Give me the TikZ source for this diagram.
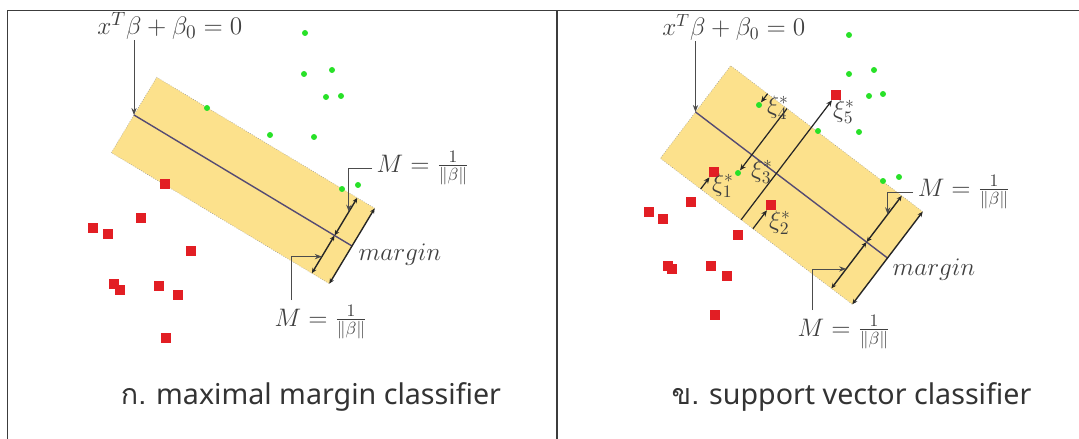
\documentclass[tikz,border=0pt]{standalone}
\usepackage{amsmath,amssymb}
\usepackage{fontspec}
\newfontfamily\thaifont[Script=Thai]{Loma}
\newfontfamily\capfont{Noto Sans}
\usepackage{tikz}
\usetikzlibrary{arrows.meta,calc}
\definecolor{bandyellow}{RGB}{252,225,140}
\definecolor{ptred}{RGB}{226,30,36}
\definecolor{ptgreen}{RGB}{40,225,40}
\definecolor{hypcol}{RGB}{85,75,115}
\definecolor{framecol}{RGB}{60,60,60}
\tikzset{
  bandfill/.style={fill=bandyellow, draw=none},
  bandedge/.style={draw=black!40, densely dotted, line width=0.35pt},
  hyper/.style={draw=hypcol, line width=0.8pt},
  marrow/.style={{Stealth[length=3pt,width=2.6pt]}-{Stealth[length=3pt,width=2.6pt]}, line width=0.8pt, draw=black!85},
  tarrow/.style={-{Stealth[length=4pt,width=3pt]}, line width=0.5pt, draw=black!70},
  sarrow/.style={-{Stealth[length=3.5pt,width=3pt]}, line width=0.7pt, draw=black!85},
  redpt/.style={rectangle, fill=ptred, minimum size=0.2cm, inner sep=0pt},
  greenpt/.style={circle, fill=ptgreen, minimum size=0.12cm, inner sep=0pt},
  biglbl/.style={text=black!75, inner sep=0pt, font=\fontsize{15.8}{19}\selectfont},
  mlbl/.style={text=black!75, inner sep=2.5pt, font=\fontsize{14}{16}\selectfont},
  caption/.style={text=black!80, inner sep=0pt, font=\capfont\fontsize{16.3}{19}\selectfont}
}

\begin{document}
\begin{tikzpicture}[x=0.02cm, y=-0.02cm]
    \useasboundingbox (0,0) rectangle (1079,439);
    % frame
    \draw[framecol, line width=1.1pt] (7.5,439) -- (7.5,10.5) -- (1079,10.5);
    \draw[framecol, line width=1.1pt] (557,10.5) -- (557,439);

    % --- left panel: maximal margin classifier
    \coordinate (lA) at (156.7,77.3);
    \coordinate (lB) at (111.3,152.7);
    \coordinate (lC) at (329.3,283.7);
    \coordinate (lD) at (374.7,208.3);
    \coordinate (lP) at ($(lB)!0.5!(lA)$);
    \coordinate (lQ) at ($(lC)!0.5!(lD)$);
    \coordinate (lMt) at ($(lA)!0.92!(lD)$);
    \coordinate (lMb) at ($(lB)!0.92!(lC)$);
    \coordinate (lMm) at ($(lP)!0.92!(lQ)$);
    \fill[bandfill] (lA) -- (lD) -- (lC) -- (lB) -- cycle;
    \draw[bandedge] (lD) -- (lA) -- (lB) -- (lC);
    \draw[hyper] (lP) -- (lQ);
    \draw[marrow] (lMm) -- (lMt);
    \draw[marrow] (lMb) -- (lMm);
    \draw[marrow] (lC) -- (lD);

    \node[redpt] (lr1) at (165,184) {};
    \node[redpt] (lr2) at (141,218) {};
    \node[redpt] (lr3) at (93,228) {};
    \node[redpt] (lr4) at (108,234) {};
    \node[redpt] (lr5) at (191,251) {};
    \node[redpt] (lr6) at (114,284) {};
    \node[redpt] (lr7) at (120,290) {};
    \node[redpt] (lr8) at (159,286) {};
    \node[redpt] (lr9) at (178,295) {};
    \node[redpt] (lr10) at (166,338) {};
    \node[greenpt] (lg1) at (305,33) {};
    \node[greenpt] (lg2) at (304,74) {};
    \node[greenpt] (lg3) at (332,70) {};
    \node[greenpt] (lg4) at (326,97) {};
    \node[greenpt] (lg5) at (341,96) {};
    \node[greenpt] (lg6) at (207,108) {};
    \node[greenpt] (lg7) at (270,135) {};
    \node[greenpt] (lg8) at (314,137) {};
    \node[greenpt] (lg9) at (342,189) {};
    \node[greenpt] (lg10) at (358,185) {};

    \node[biglbl, anchor=base west] (hypL) at (97,35) {$x^T\beta+\beta_0=0$};
    \draw[tarrow] (hypL.south -| lP) -- (lP);
    \node[mlbl, anchor=west] (mUL) at (372,168) {$M=\frac{1}{\|\beta\|}$};
    \draw[tarrow] (mUL.west) -| ($(lMm)!0.63!(lMt)$);
    \node[mlbl] (mLL) at (321,322) {$M=\frac{1}{\|\beta\|}$};
    \draw[tarrow] ([xshift=12pt]mLL.north west) |- ($(lMb)!0.44!(lMm)$);
    \node[mlbl] (marL) at (400,255) {$margin$};
    \node[caption] (capL) at (311,397) {{\thaifont ก.} maximal margin classifier};

    % --- right panel: support vector classifier
    \coordinate (rA) at (730.7,65.7);
    \coordinate (rB) at (660.3,158.3);
    \coordinate (rC) at (852.3,304.3);
    \coordinate (rD) at (922.7,211.7);
    \coordinate (rP) at ($(rB)!0.5!(rA)$);
    \coordinate (rQ) at ($(rC)!0.5!(rD)$);
    \coordinate (rMt) at ($(rA)!0.891!(rD)$);
    \coordinate (rMb) at ($(rB)!0.891!(rC)$);
    \coordinate (rMm) at ($(rP)!0.891!(rQ)$);
    \fill[bandfill] (rA) -- (rD) -- (rC) -- (rB) -- cycle;
    \draw[bandedge] (rD) -- (rA) -- (rB) -- (rC);
    \draw[hyper] (rP) -- (rQ);
    \draw[marrow] (rMm) -- (rMt);
    \draw[marrow] (rMb) -- (rMm);
    \draw[marrow] (rC) -- (rD);

    \node[redpt] (rr1) at (713.6,172) {};
    \node[redpt] (rr2) at (771,205) {};
    \node[redpt] (rr3) at (836,95) {};
    \node[redpt] (rr4) at (691,202) {};
    \node[redpt] (rr5) at (649,212) {};
    \node[redpt] (rr6) at (663,219) {};
    \node[redpt] (rr7) at (738,235) {};
    \node[redpt] (rr8) at (668,266) {};
    \node[redpt] (rr9) at (672,269) {};
    \node[redpt] (rr10) at (711,266) {};
    \node[redpt] (rr11) at (727,276) {};
    \node[redpt] (rr12) at (715,315) {};
    \node[greenpt] (rg1) at (759,105) {};
    \node[greenpt] (rg2) at (738,173) {};
    \node[greenpt] (rg3) at (849,35) {};
    \node[greenpt] (rg4) at (849,74) {};
    \node[greenpt] (rg5) at (874,70) {};
    \node[greenpt] (rg6) at (869,96) {};
    \node[greenpt] (rg7) at (883,94) {};
    \node[greenpt] (rg8) at (818,131) {};
    \node[greenpt] (rg9) at (859,132) {};
    \node[greenpt] (rg10) at (883,181) {};
    \node[greenpt] (rg11) at (899,177) {};

    % slack arrows
    \draw[sarrow] ($(rB)!(rr1)!(rC)$) -- (rr1);
    \draw[sarrow] ($(rB)!(rr2)!(rC)$) -- (rr2);
    \draw[sarrow] ($(rB)!(rr3)!(rC)$) -- (rr3);
    \draw[sarrow] ($(rA)!(rg1)!(rD)$) -- (rg1);
    \draw[sarrow] ($(rA)!(rg2)!(rD)$) -- (rg2);
    \node[mlbl] (xi1) at (723,186) {$\xi_1^*$};
    \node[mlbl] (xi2) at (780,223) {$\xi_2^*$};
    \node[mlbl] (xi3) at (762,172) {$\xi_3^*$};
    \node[mlbl] (xi4) at (778,108) {$\xi_4^*$};
    \node[mlbl] (xi5) at (844,112) {$\xi_5^*$};

    \node[biglbl, anchor=base west, font=\fontsize{14.2}{17}\selectfont] (hypR) at (662,36) {$x^T\beta+\beta_0=0$};
    \draw[tarrow] (hypR.south -| rP) -- (rP);
    \node[mlbl, anchor=west] (mUR) at (913,192) {$M=\frac{1}{\|\beta\|}$};
    \draw[tarrow] (mUR.west) -| ($(rMm)!0.6!(rMt)$);
    \node[mlbl] (mLR) at (844,332) {$M=\frac{1}{\|\beta\|}$};
    \draw[tarrow] ([xshift=11pt]mLR.north west) |- ($(rMb)!0.42!(rMm)$);
    \node[mlbl] (marR) at (934,270) {$margin$};
    \node[caption] (capR) at (851.5,397) {{\thaifont ข.} support vector classifier};
\end{tikzpicture}
\end{document}
